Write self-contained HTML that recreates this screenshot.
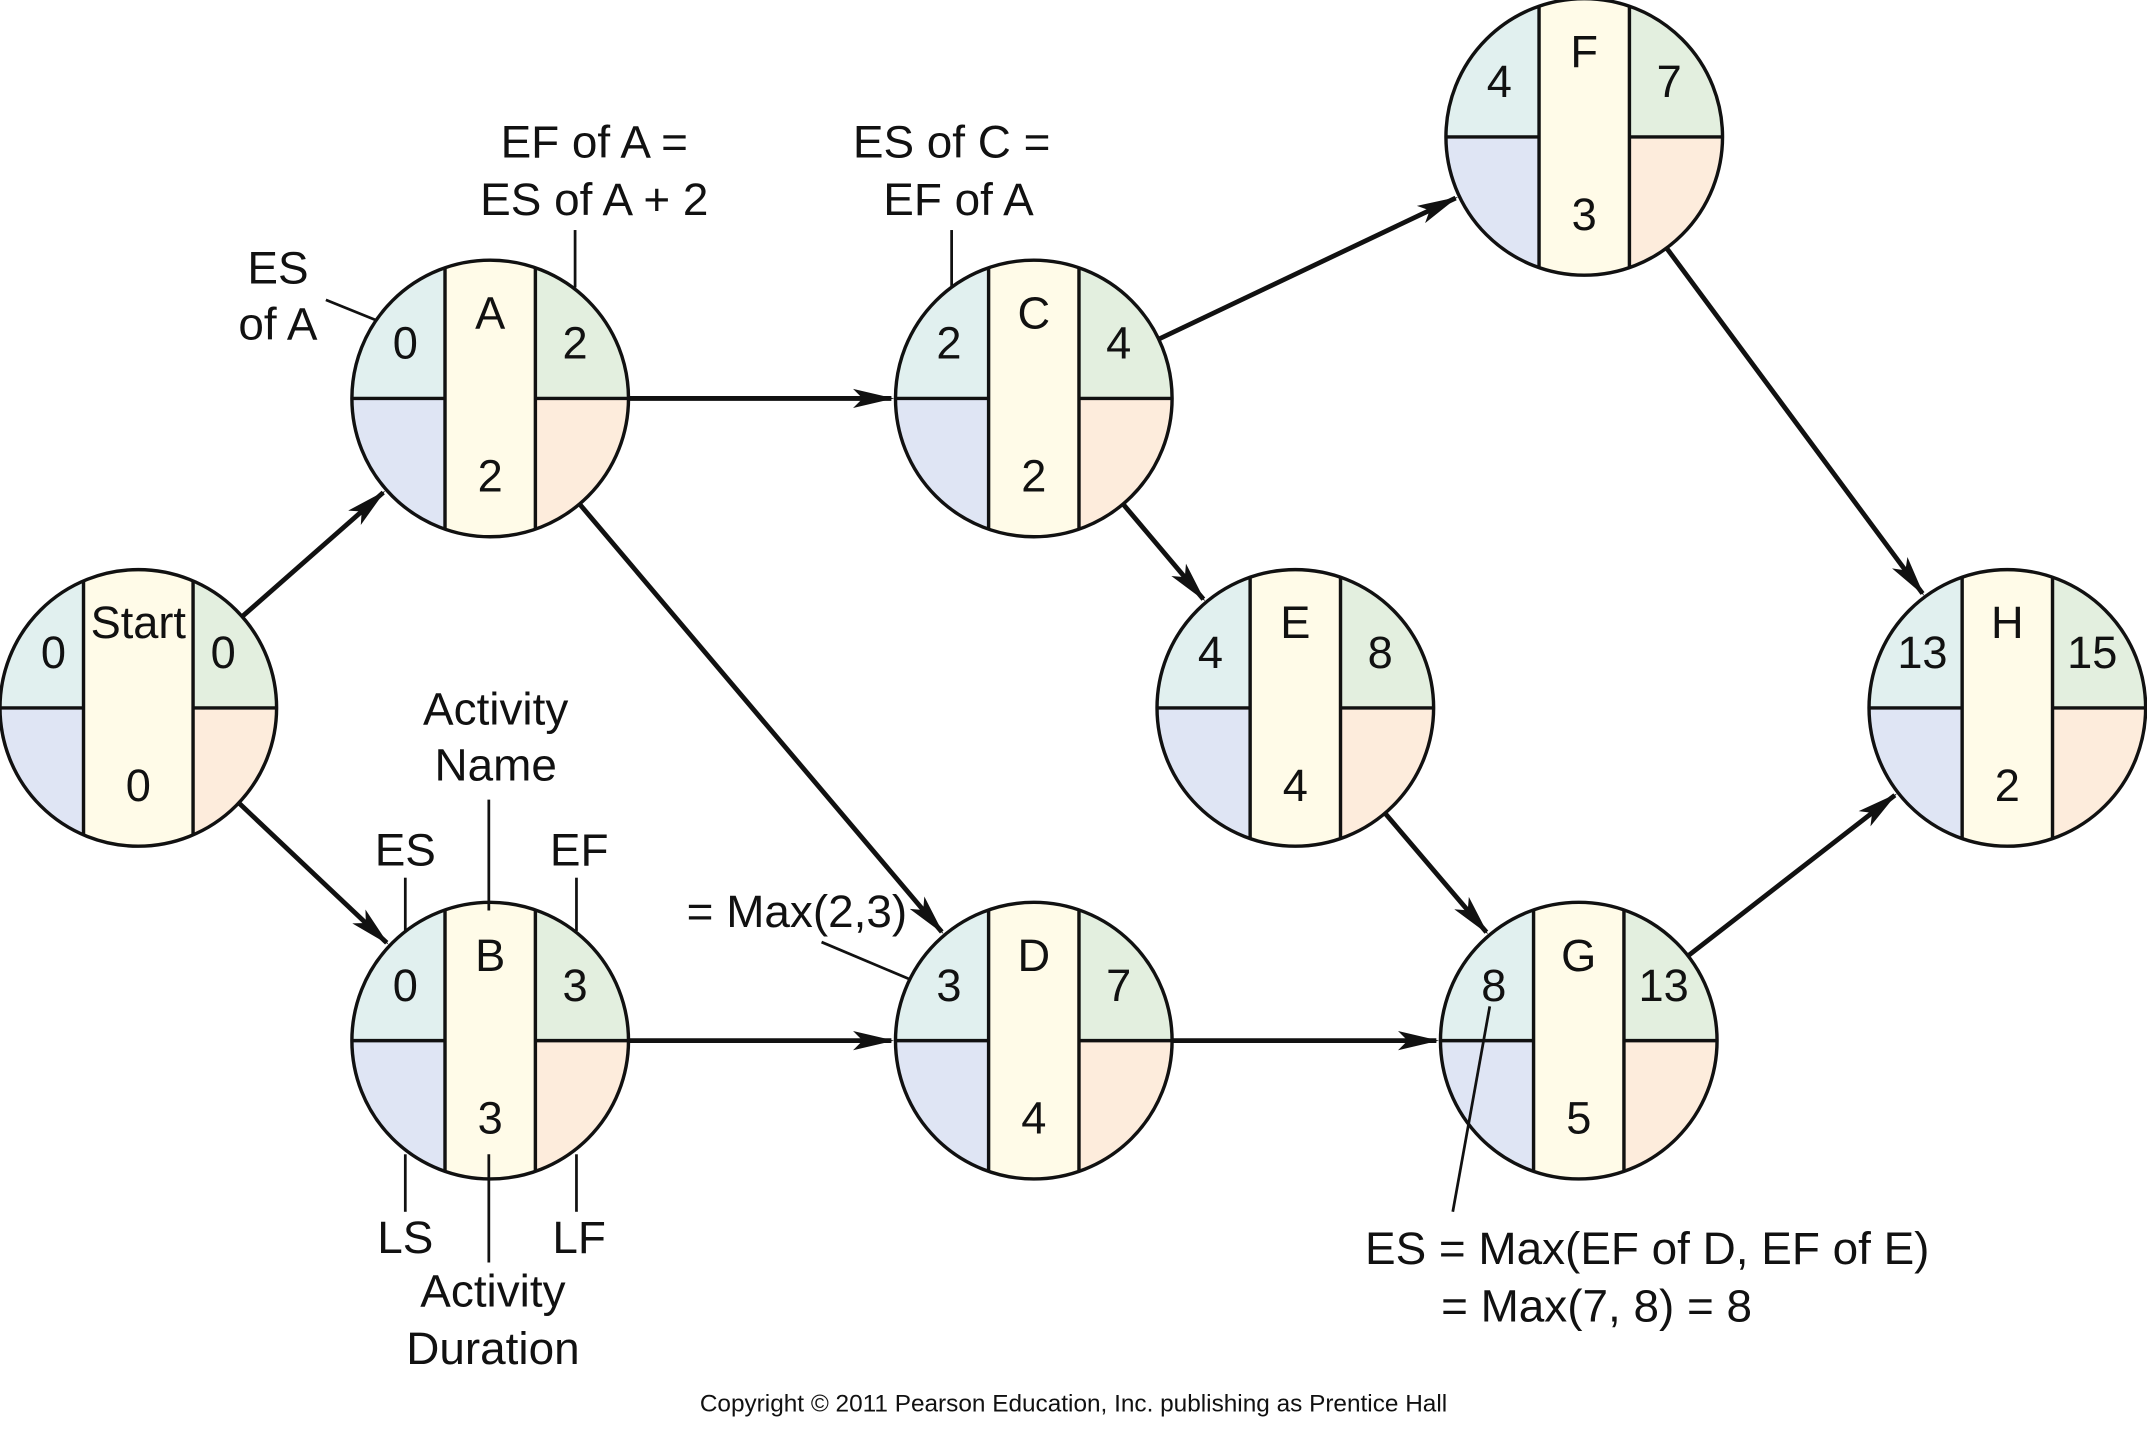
<!DOCTYPE html>
<html><head><meta charset="utf-8"><style>
html,body{margin:0;padding:0;background:#fff;}
svg{display:block;font-family:"Liberation Sans",sans-serif;}
</style></head><body>
<svg id="chart" width="2147" height="1438" viewBox="0 0 1568 1050.2" xmlns="http://www.w3.org/2000/svg">
<defs>
<marker id="ah" markerWidth="30" markerHeight="20" refX="28" refY="10" orient="auto" markerUnits="userSpaceOnUse">
<path d="M0,3 L30,10 L0,17 L7,10 Z" fill="#111"/>
</marker>
</defs>
<g id="arrows"></g>
<g id="nodes"></g>
<g id="notes" font-size="33.5" fill="#111" stroke="none"></g>
<text x="784" y="1031" text-anchor="middle" font-size="17.8" fill="#111">Copyright © 2011 Pearson Education, Inc. publishing as Prentice Hall</text>
</svg>
<script>
const nodeNames=["Start","A","B","C","D","E","F","G","H"];
const nodeES=[0,0,0,2,3,4,4,8,13];
const nodeEF=[0,2,3,4,7,8,7,13,15];
const nodeDur=[0,2,3,2,4,4,3,5,2];
const nodeX=[101,358,358,755,755,946,1157,1153,1466];
const nodeY=[517,291,760,291,760,517,100,760,517];
const edges=[["Start","A"],["Start","B"],["A","C"],["A","D"],["B","D"],["C","F"],["C","E"],["D","G"],["E","G"],["F","H"],["G","H"]];
const NS="http://www.w3.org/2000/svg";
const R=101;
function mk(t,a,p){const e=document.createElementNS(NS,t);for(const k in a)e.setAttribute(k,a[k]);p.appendChild(e);return e;}
const ng=document.getElementById('nodes');
nodeNames.forEach((n,i)=>{
  const x=nodeX[i],y=nodeY[i];const bw=n==="Start"?40:33;
  const g=mk('g',{},ng);
  
  
  const cid='c'+i;
  const cp=mk('clipPath',{id:cid},g);mk('circle',{cx:x,cy:y,r:R},cp);
  const cl=mk('g',{'clip-path':'url(#'+cid+')'},g);
  mk('rect',{x:x-R,y:y-R,width:R-bw,height:R,fill:'#e1f0ef'},cl);
  mk('rect',{x:x-R,y:y,width:R-bw,height:R,fill:'#dfe5f4'},cl);
  mk('rect',{x:x+bw,y:y-R,width:R-bw,height:R,fill:'#e3efdf'},cl);
  mk('rect',{x:x+bw,y:y,width:R-bw,height:R,fill:'#fdecdc'},cl);
  mk('rect',{x:x-bw,y:y-R,width:2*bw,height:2*R,fill:'#fffbe8'},cl);
  mk('line',{x1:x-R,y1:y,x2:x-bw,y2:y,stroke:'#111','stroke-width':2.5},cl);
  mk('line',{x1:x+bw,y1:y,x2:x+R,y2:y,stroke:'#111','stroke-width':2.5},cl);
  mk('line',{x1:x-bw,y1:y-R,x2:x-bw,y2:y+R,stroke:'#111','stroke-width':2.5},cl);
  mk('line',{x1:x+bw,y1:y-R,x2:x+bw,y2:y+R,stroke:'#111','stroke-width':2.5},cl);
  mk('circle',{cx:x,cy:y,r:R,fill:'none',stroke:'#111','stroke-width':2.5},g);
  const off=n==="Start"?62:62;
  const t=[[x-off,y-29,nodeES[i],'es'],[x,y-51,n,'name'],[x+off,y-29,nodeEF[i],'ef'],[x,y+68,nodeDur[i],'duration']];
  t.forEach(a=>{const e=mk('text',{x:a[0],y:a[1],'text-anchor':'middle','font-size':33,fill:'#111'},g);e.textContent=a[2];
    
    });
});
const ag=document.getElementById('arrows');
edges.forEach(([a,b])=>{
  const i=nodeNames.indexOf(a),j=nodeNames.indexOf(b);
  const x1=nodeX[i],y1=nodeY[i],x2=nodeX[j],y2=nodeY[j];
  const d=Math.hypot(x2-x1,y2-y1),ux=(x2-x1)/d,uy=(y2-y1)/d;
  const l=mk('line',{x1:x1+ux*R,y1:y1+uy*R,x2:x2-ux*(R+3),y2:y2-uy*(R+3),stroke:'#111','stroke-width':3.5,'marker-end':'url(#ah)'},ag);
  
  
});
const notes=document.getElementById('notes');
const labels=[[203,207,'ES','es-of-a-label'],[203,248,'of A','es-of-a-label-2'],[434,115,'EF of A =','ef-of-a-label'],[434,157,'ES of A + 2','ef-of-a-label-2'],[695,115,'ES of C =','es-of-c-label'],[700,157,'EF of A','es-of-c-label-2'],[362,529,'Activity','activity-name-label'],[362,570,'Name','activity-name-label-2'],[296,632,'ES','es-legend'],[423,632,'EF','ef-legend'],[296,915,'LS','ls-legend'],[423,915,'LF','lf-legend'],[360,954,'Activity','activity-duration-label'],[360,996,'Duration','activity-duration-label-2'],[582,677,'= Max(2,3)','max-2-3-label'],[1203,923,'ES = Max(EF of D, EF of E)','es-of-g-formula'],[1166,965,'= Max(7, 8) = 8','es-of-g-result']];
labels.forEach(a=>{const e=mk('text',{x:a[0],y:a[1],'text-anchor':'middle'},notes);e.textContent=a[2];
  
  });
const leaders=[[238,219,275,234],[420,168,420,210],[695,168,695,210],[357,584,357,665],[296,641,296,680],[421,641,421,680],[296,843,296,885],[421,843,421,885],[357,843,357,922],[600,688,664,715],[1088,735,1061,885]];
leaders.forEach(a=>{const e=mk('line',{x1:a[0],y1:a[1],x2:a[2],y2:a[3],stroke:'#111','stroke-width':2},notes);
  
  });
</script>
</body></html>
